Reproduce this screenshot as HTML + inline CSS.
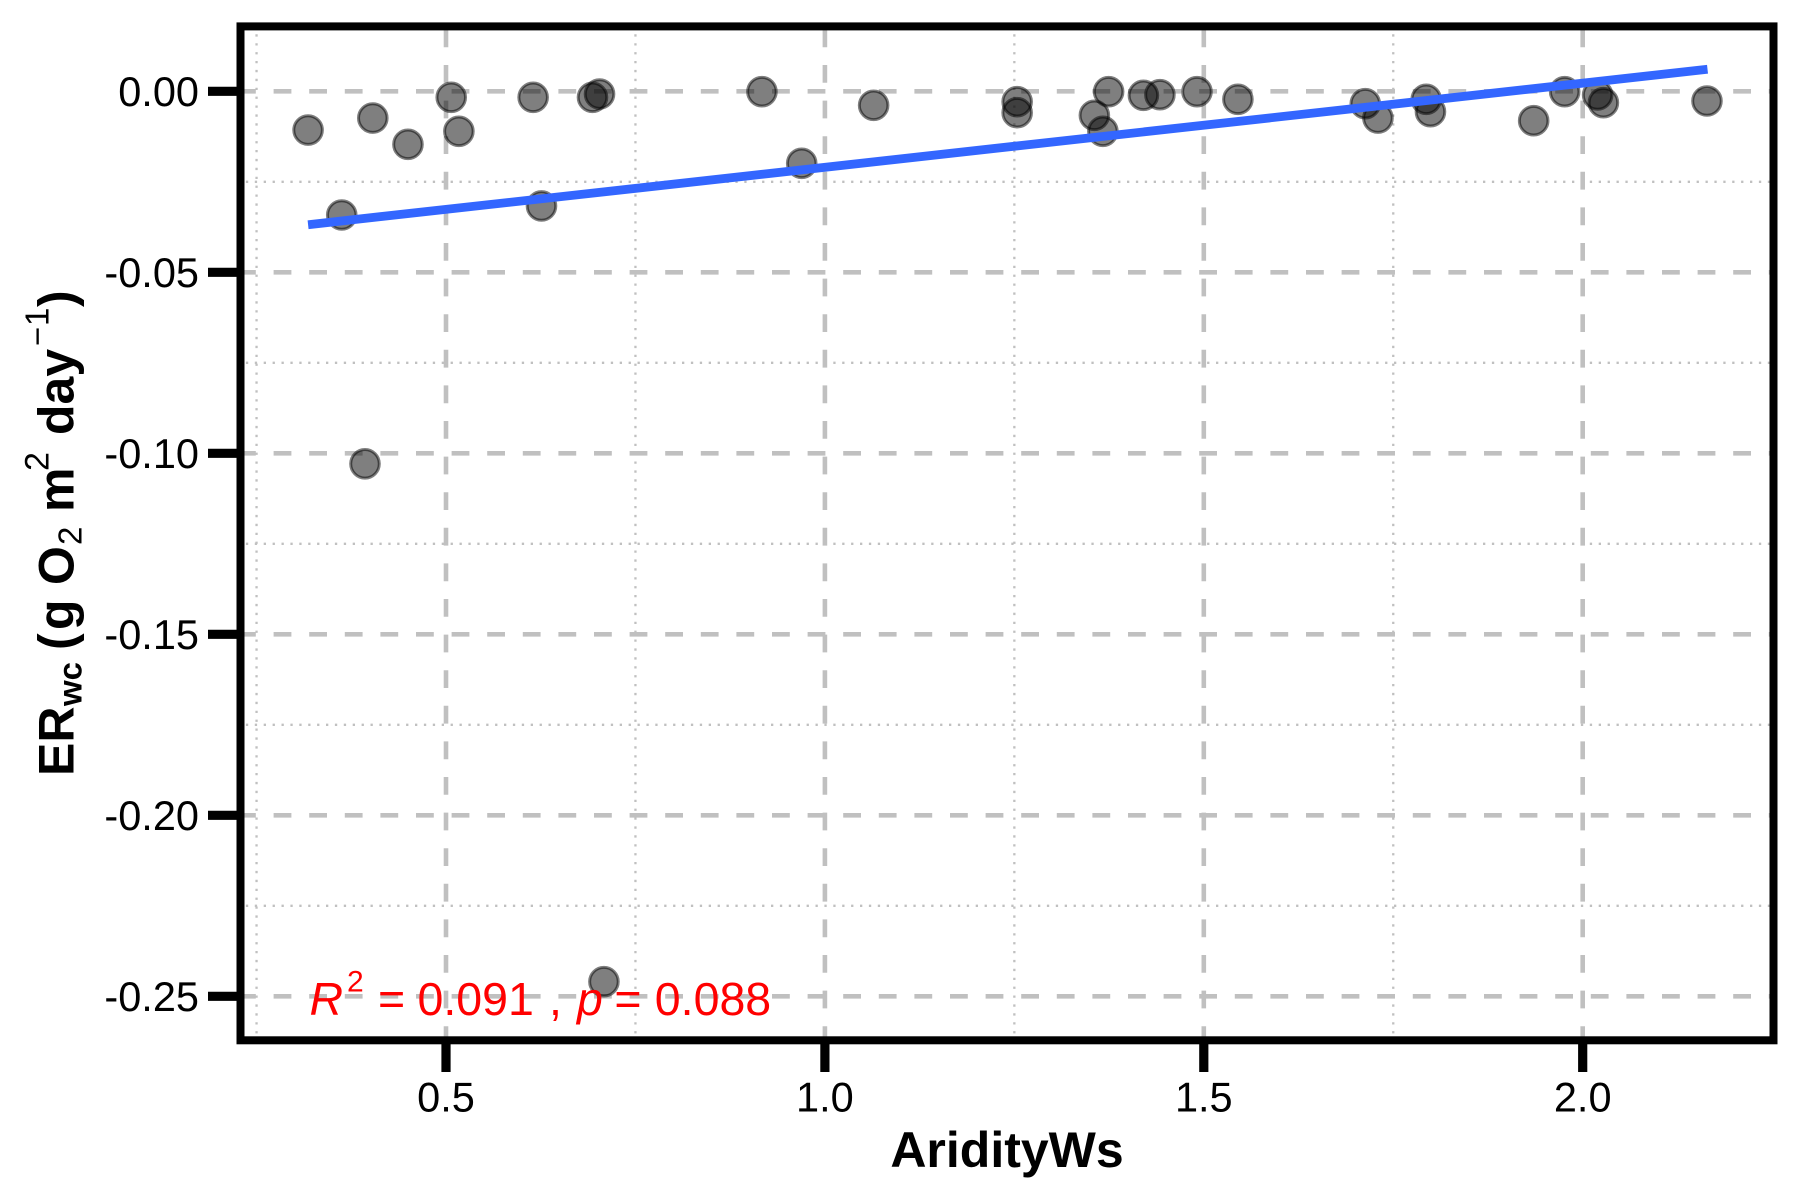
<!DOCTYPE html>
<html lang="en">
<head>
<meta charset="utf-8">
<title>ER water column vs AridityWs</title>
<style>
html,body{margin:0;padding:0;background:#fff;width:1800px;height:1200px;overflow:hidden}
svg{display:block;font-family:"Liberation Sans",Arial,sans-serif}
</style>
</head>
<body>
<svg id="chart" width="1800" height="1200" viewBox="0 0 1800 1200" xmlns="http://www.w3.org/2000/svg">
  <rect x="0" y="0" width="1800" height="1200" fill="#fff"/>
  <g id="grid"></g>
  <g id="points"></g>
  <g id="fit"></g>
  <text fill="#ff0000" font-size="46.5"><tspan x="309.5" y="1015" font-style="italic">R</tspan><tspan x="347" y="991.5" font-size="30">2 </tspan><tspan x="378" y="1015">= </tspan><tspan x="417.5" y="1015">0.091 </tspan><tspan x="549" y="1015">, </tspan><tspan x="577" y="1015" font-style="italic">p </tspan><tspan x="614.4" y="1015">= </tspan><tspan x="654.8" y="1015">0.088</tspan></text>
  <rect x="240.5" y="26.4" width="1533" height="1013.9" fill="none" stroke="#000" stroke-width="8"/>
  <g id="axes"></g>
  <text x="1007" y="1167" text-anchor="middle" font-size="50" font-weight="bold">AridityWs</text>
  <text transform="translate(73.3,773) rotate(-90)" font-size="50" font-weight="bold"><tspan x="-3" y="0">ER</tspan><tspan x="67" y="8" font-size="33">wc </tspan><tspan x="123" y="0">(</tspan><tspan x="143" y="0">g </tspan><tspan x="188" y="0">O</tspan><tspan x="228" y="8" font-size="33" font-weight="normal">2 </tspan><tspan x="261" y="0">m</tspan><tspan x="302" y="-25" font-size="34" font-weight="normal">2 </tspan><tspan x="338" y="0">day</tspan><tspan x="427" y="-25" font-size="33" font-weight="normal">−</tspan><tspan x="447" y="-25" font-size="33" font-weight="normal">1</tspan><tspan x="466" y="0">)</tspan></text>
</svg>
<script>
// Chart data
const pointX = [0.318,0.4034,0.4498,0.5069,0.517,0.615,0.6933,0.7026,0.3624,0.626,0.3931,0.7084,0.9169,1.0643,0.9694,1.2537,1.2537,1.3744,1.3556,1.3668,1.4203,1.4421,1.491,1.545,1.7131,1.7298,1.7935,1.7991,1.9353,1.9762,2.0197,2.0273,2.164];
const pointY = [-0.0107,-0.00738,-0.01465,-0.00166,-0.01105,-0.00166,-0.00166,-0.00075,-0.03417,-0.03168,-0.1029,-0.24596,-0.0001,-0.00387,-0.01989,-0.00287,-0.00591,-0.0001,-0.00663,-0.01105,-0.0011,-0.00094,-0.0001,-0.00221,-0.00343,-0.00738,-0.00221,-0.00564,-0.00812,-0.0001,-0.00102,-0.00315,-0.00268];
const fitX = [0.318,2.1647];
const fitY = [-0.03685,0.00608];
const xTicks = [0.5,1.0,1.5,2.0];
const xTickLabels = ["0.5","1.0","1.5","2.0"];
const yTicks = [0,-0.05,-0.10,-0.15,-0.20,-0.25];
const yTickLabels = ["0.00","-0.05","-0.10","-0.15","-0.20","-0.25"];
const xMinorTicks = [0.25,0.75,1.25,1.75];
const yMinorTicks = [-0.025,-0.075,-0.125,-0.175,-0.225];

// Axis functions
function xScale(v){ return 67.1 + v*757.8; }
function yScale(v){ return 91.3 - v*3620; }

const NS = "http://www.w3.org/2000/svg";
const PANEL = {left:238, right:1777, top:23, bottom:1044};
const gridLayer = document.getElementById("grid");
const pointLayer = document.getElementById("points");
const fitLayer = document.getElementById("fit");
const axisLayer = document.getElementById("axes");

function makeLine(parent,x1,y1,x2,y2,stroke,width,dash){
  const l = document.createElementNS(NS,"line");
  l.setAttribute("x1",x1);
  l.setAttribute("y1",y1);
  l.setAttribute("x2",x2);
  l.setAttribute("y2",y2);
  l.setAttribute("stroke",stroke);
  l.setAttribute("stroke-width",width);
  if(dash) l.setAttribute("stroke-dasharray",dash);
  parent.appendChild(l);
  return l;
}
function makeLabel(parent,x,y,anchor,str){
  const t = document.createElementNS(NS,"text");
  t.setAttribute("x",x);
  t.setAttribute("y",y);
  t.setAttribute("text-anchor",anchor);
  t.setAttribute("font-size","41.5");
  t.setAttribute("fill","#000");
  t.textContent = str;
  parent.appendChild(t);
  return t;
}

// Minor grid (dotted)
xMinorTicks.forEach(function(v){
  const g = makeLine(gridLayer,xScale(v),1042.3,xScale(v),PANEL.top,"#c0c0c0",2.3,"2.3 6.6");
  
  
});
yMinorTicks.forEach(function(v){
  const g = makeLine(gridLayer,237,yScale(v),PANEL.right,yScale(v),"#c0c0c0",2.3,"2.3 6.6");
  
  
});
// Major grid (dashed)
xTicks.forEach(function(v){
  const g = makeLine(gridLayer,xScale(v),PANEL.bottom,xScale(v),PANEL.top,"#c0c0c0",4.6,"17.8 17.8");
  
  
});
yTicks.forEach(function(v){
  const g = makeLine(gridLayer,PANEL.left,yScale(v),PANEL.right,yScale(v),"#c0c0c0",4.6,"17.8 17.8");
  
  
});

// Points
pointX.forEach(function(v,i){
  const c = document.createElementNS(NS,"circle");
  c.setAttribute("cx",xScale(v));
  c.setAttribute("cy",yScale(pointY[i]));
  c.setAttribute("r","14.3");
  c.setAttribute("fill","rgba(0,0,0,0.5)");
  c.setAttribute("stroke","rgba(0,0,0,0.5)");
  c.setAttribute("stroke-width","3");
  
  
  pointLayer.appendChild(c);
});

// Fit line
const fitLine = makeLine(fitLayer,xScale(fitX[0]),yScale(fitY[0]),xScale(fitX[1]),yScale(fitY[1]),"#3366FF",8.8);



// Ticks and labels
xTicks.forEach(function(v,i){
  const t = makeLine(axisLayer,xScale(v),1044,xScale(v),1072,"#000",9.2);
  
  
  const l = makeLabel(axisLayer,xScale(v),1111.5,"middle",xTickLabels[i]);
  
  
});
yTicks.forEach(function(v,i){
  const t = makeLine(axisLayer,208,yScale(v),237,yScale(v),"#000",9.2);
  
  
  const l = makeLabel(axisLayer,199,yScale(v)+14.5,"end",yTickLabels[i]);
  
  
});
</script>
</body>
</html>
